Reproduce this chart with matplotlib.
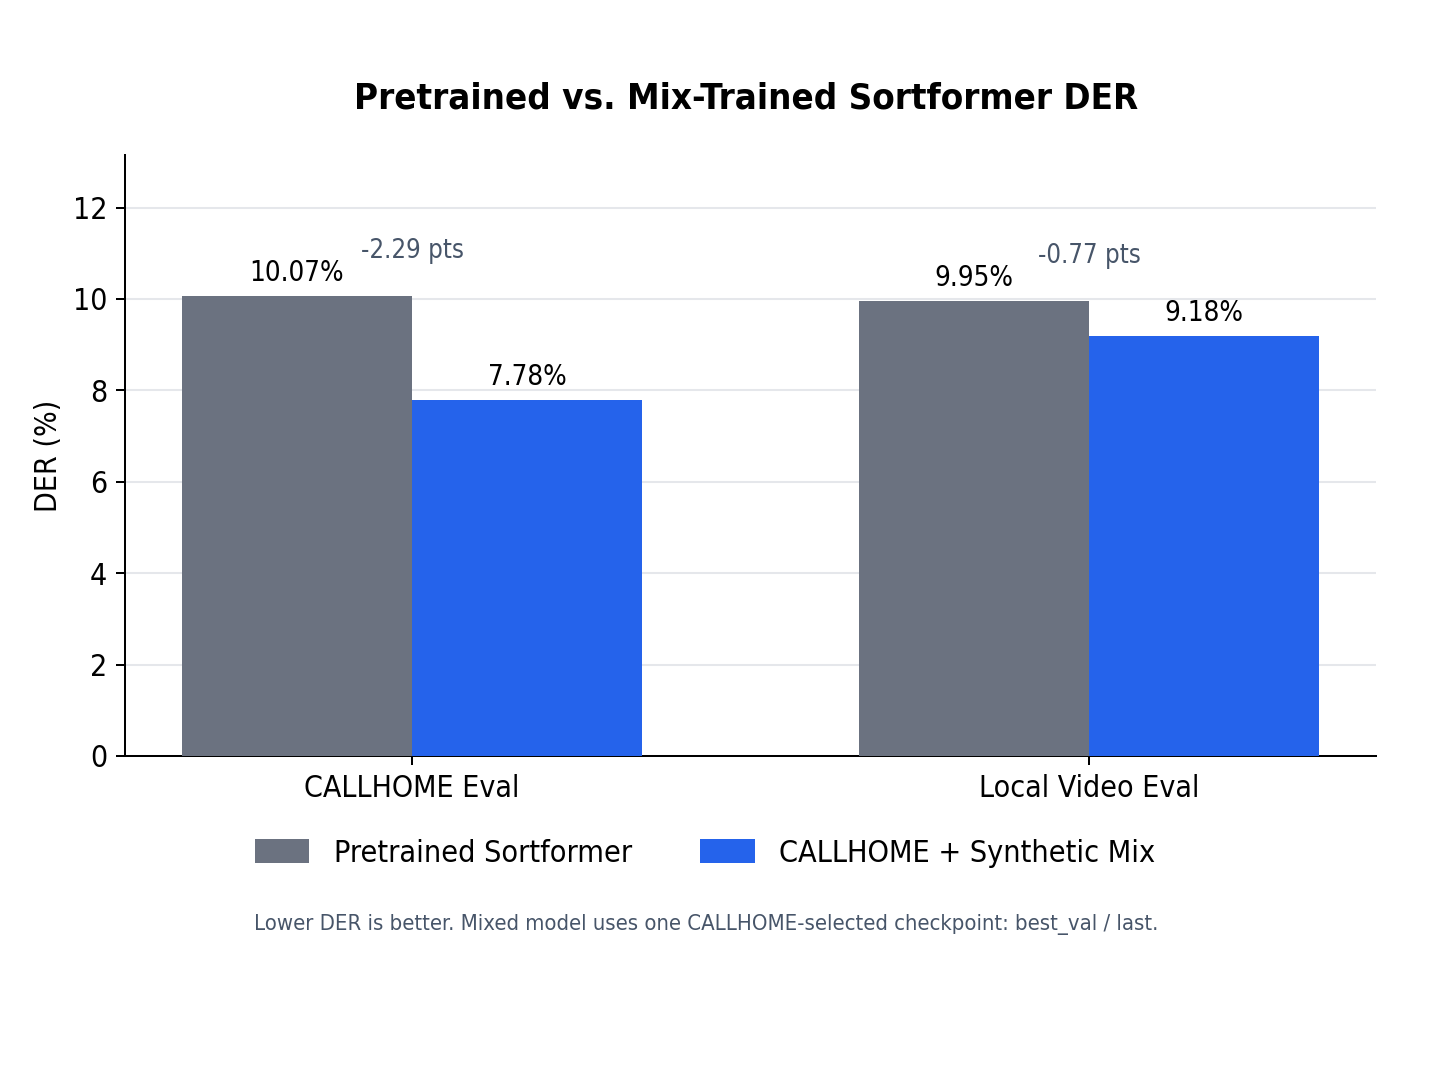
import matplotlib
matplotlib.use("Agg")
import matplotlib.pyplot as plt
import numpy as np

plt.rcParams["font.family"] = ["DejaVu Sans"]
plt.rcParams["font.stretch"] = "condensed"

# data
groups = ["CALLHOME Eval", "Local Video Eval"]
pretrained = [10.07, 9.95]
mixed = [7.78, 9.18]
series_names = ["Pretrained Sortformer", "CALLHOME + Synthetic Mix"]
footnote = "Lower DER is better. Mixed model uses one CALLHOME-selected checkpoint: best_val / last."

GRAY = "#6B7280"
BLUE = "#2563EB"
SLATE = "#475569"

x = np.arange(len(groups))
w = 0.34

fig = plt.figure(figsize=(8, 6), dpi=181)
ax = fig.add_axes([0.0863, 0.3039, 0.864, 0.5534])

b1 = ax.bar(x - w / 2, pretrained, w, color=GRAY, label=series_names[0], zorder=3)
b2 = ax.bar(x + w / 2, mixed, w, color=BLUE, label=series_names[1], zorder=3)

# value labels
for bars, vals in [(b1, pretrained), (b2, mixed)]:
    for rect, v in zip(bars, vals):
        ax.text(rect.get_x() + rect.get_width() / 2, v + 0.2, f"{v:.2f}%",
                ha="center", va="bottom", fontsize=11, color="black")

# delta labels
for xi, a, b in zip(x, pretrained, mixed):
    ax.text(xi, max(a, b) + 0.7, f"{b - a:.2f} pts", ha="center", va="bottom",
            fontsize=10.2, color=SLATE)

ax.set_ylim(0, 13.15)
ax.set_xticks(x)
ax.set_xticklabels(groups, fontsize=12)
ax.tick_params(axis="y", labelsize=12)
ax.set_ylabel("DER (%)", fontsize=12)
ax.yaxis.grid(True, color="#E5E7EB", linewidth=0.8, zorder=0)
ax.set_axisbelow(True)
ax.spines["top"].set_visible(False)
ax.spines["right"].set_visible(False)

fig.suptitle("Pretrained vs. Mix-Trained Sortformer DER", fontsize=14.5,
             fontweight="bold", x=0.515, y=0.909, va="center")

fig.legend(handles=[b1, b2], loc="center", bbox_to_anchor=(0.487, 0.2145),
           ncol=2, frameon=False, fontsize=12.1, handlelength=1.8,
           handleheight=0.8, columnspacing=2.25)

fig.text(0.488, 0.149, footnote, ha="center", va="center", fontsize=8.75, color=SLATE)

fig.savefig("out.png", dpi=181, facecolor="white")
